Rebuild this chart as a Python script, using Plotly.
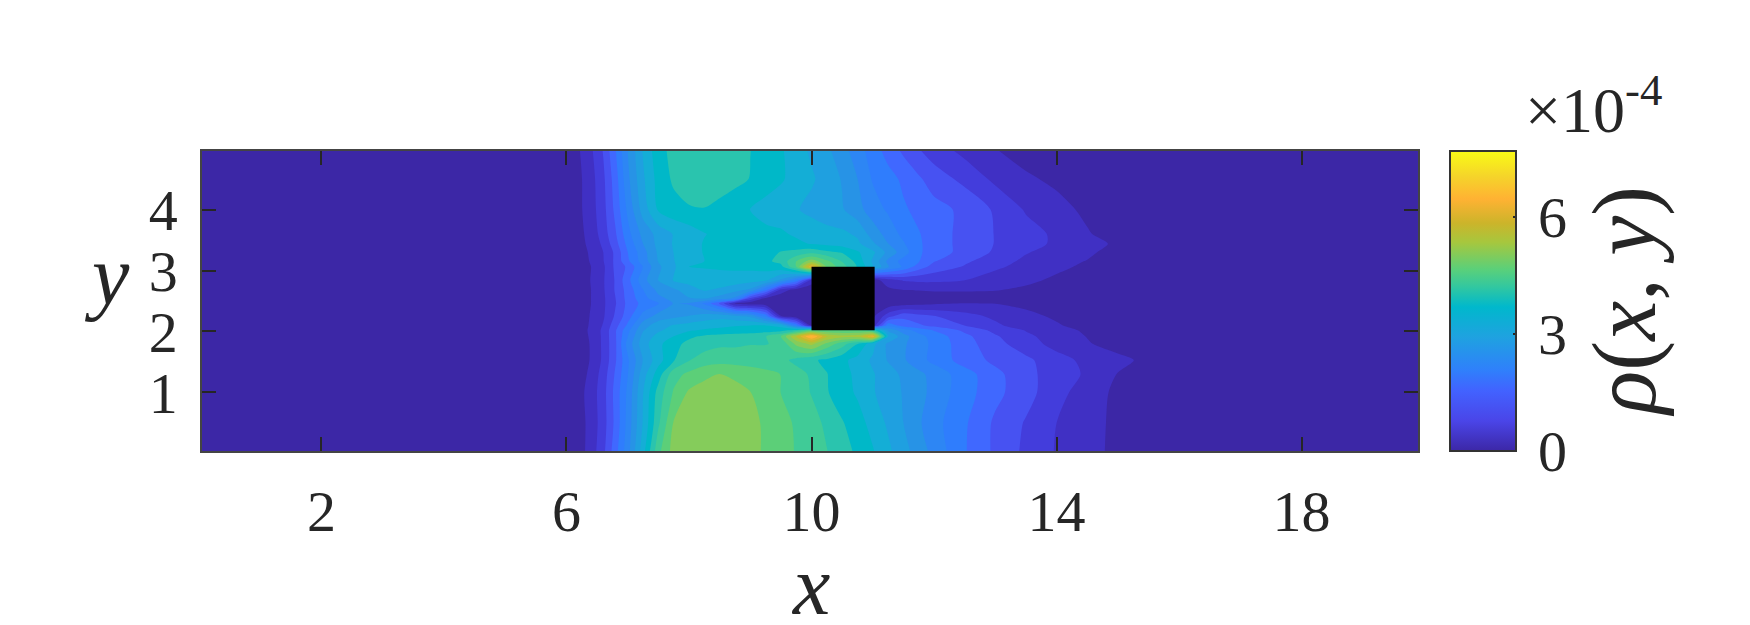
import plotly.graph_objects as go

# density field, in units of 1e-4
x_cols = [0.05, 6, 6.2, 6.4, 6.6, 6.8, 7, 7.25, 7.5, 7.75, 8,
          8.25, 8.5, 8.75, 9, 9.25, 9.5, 9.75, 10, 10.25, 10.5, 10.75, 11,
          11.25, 11.5, 11.75, 12, 12.5, 13, 13.5, 14, 14.5, 15, 15.5, 19.9]
y_rows = [0.04, 0.5, 1.0, 1.3, 1.53, 1.8, 1.92, 2.02, 2.1, 2.25, 2.46, 2.54, 2.68,
          2.84, 3.06, 3.15, 3.3, 3.44, 3.6, 4.0, 4.5, 4.96]

rho_004 = [0, .03, .2, .56, 1.05, 1.78, 2.54, 3.7, 4.9, 5.55, 5.65,
           5.68, 5.7, 5.65, 5.52, 5.33, 5.15, 4.98, 4.8, 4.63, 4.41, 4.15, 3.88,
           3.55, 3.22, 2.9, 2.56, 1.96, 1.46, 1.07, .74, .5, .3, .12, 0]
rho_050 = [0, .03, .22, .52, .98, 1.65, 2.45, 3.5, 4.55, 5.42, 5.58,
           5.63, 5.65, 5.6, 5.5, 5.33, 5.15, 4.95, 4.75, 4.55, 4.27, 4.0, 3.72,
           3.4, 3.08, 2.75, 2.45, 1.98, 1.47, 1.12, .77, .52, .3, .1, 0]
rho_100 = [0, .03, .25, .55, 1.0, 1.68, 2.4, 3.46, 4.4, 5.05, 5.45,
           5.55, 5.6, 5.55, 5.4, 5.2, 5.0, 4.8, 4.6, 4.27, 4.0, 3.8, 3.5,
           3.28, 3.05, 2.85, 2.55, 2.1, 1.65, 1.3, .9, .58, .3, .1, 0]
rho_130 = [0, .03, .2, .48, .95, 1.6, 2.3, 3.3, 4.05, 4.85, 5.1,
           5.3, 5.4, 5.3, 5.18, 5.08, 5.0, 4.8, 4.55, 4.25, 4.0, 3.75, 3.5,
           3.25, 3.0, 2.8, 2.55, 2.1, 1.65, 1.28, .95, .72, .37, .08, 0]
rho_153 = [0, .03, .15, .42, .85, 1.5, 2.25, 3.1, 3.7, 4.2, 4.6,
           4.8, 4.85, 4.85, 4.85, 4.85, 4.75, 4.5, 4.3, 4.15, 3.95, 3.7, 3.4,
           3.05, 2.75, 2.45, 2.2, 1.75, 1.45, 1.25, .9, .68, .5, .28, 0]
rho_180 = [0, .03, .15, .42, .85, 1.48, 2.45, 3.3, 3.75, 4.1, 4.35,
           4.45, 4.55, 4.55, 4.6, 4.6, 4.7, 5.5, 5.9, 5.3, 4.8, 4.25, 3.6,
           3.0, 2.75, 2.5, 2.2, 1.7, 1.3, .92, .65, .42, .22, .04, 0]
rho_192 = [0, .03, .15, .45, .85, 1.5, 2.3, 3.2, 3.6, 3.85, 4.15,
           4.3, 4.35, 4.4, 4.45, 4.6, 5.0, 6.2, 7.4, 6.2, 5.9, 6.0, 6.9,
           3.5, 2.85, 2.45, 2.15, 1.65, 1.2, .85, .6, .37, .17, .03, 0]
rho_202 = [0, .03, .15, .48, .85, 1.5, 2.2, 3.05, 3.4, 3.62, 3.8,
           3.9, 3.95, 4.0, 4.02, 4.05, 4.1, 4.4, 5.0, 5.0, 5.0, 5.0, 4.5,
           3.0, 2.5, 2.15, 1.9, 1.45, 1.05, .75, .53, .32, .14, .02, 0]
rho_210 = [0, .03, .14, .45, .8, 1.4, 2.0, 2.9, 3.3, 3.5, 3.6,
           3.68, 3.75, 3.82, 3.85, 3.85, 3.7, 2.2, .3, .1, .1, .1, .5,
           2.2, 1.75, 1.6, 1.42, 1.15, .85, .55, .42, .25, .1, .02, 0]
rho_225 = [0, .03, .14, .42, .72, 1.22, 1.75, 2.45, 2.85, 2.98, 3.1,
           3.25, 3.32, 3.2, 3.0, 2.2, .4, .12, .1, .1, .1, .1, .3,
           1.0, 1.45, 1.3, 1.18, .92, .68, .48, .33, .15, .05, 0, 0]
rho_246 = [0, .03, .14, .385, .7, 1.13, 1.65, 2.05, 2.3, 2.72, 2.65,
           2.25, 1.5, .3, .15, .1, .1, .1, .1, .1, .1, .1, .1,
           .12, .2, .27, .33, .39, .38, .3, .2, .1, .03, 0, 0]
rho_254 = [0, .03, .14, .385, .7, 1.15, 1.68, 2.15, 2.6, 2.8, 3.05,
           3.1, 2.9, 2.6, 1.0, .25, .1, .08, .08, .1, .1, .1, .1,
           .1, .12, .17, .2, .22, .22, .2, .15, .1, .03, 0, 0]
rho_268 = [0, .04, .15, .385, .72, 1.2, 1.7, 2.3, 2.8, 3.0, 3.3,
           3.5, 3.4, 3.2, 3.0, 2.0, .6, .2, .1, .1, .1, .1, .1,
           .3, .38, .4, .42, .42, .4, .33, .22, .1, .03, 0, 0]
rho_284 = [0, .05, .17, .4, .73, 1.2, 1.8, 2.55, 3.1, 3.5, 3.6,
           3.65, 3.68, 3.68, 3.6, 3.55, 3.0, 2.2, .6, .1, .1, .1, .2,
           .6, .8, .85, .85, .77, .55, .45, .33, .15, .03, 0, 0]
rho_306 = [0, .05, .17, .385, .7, 1.25, 1.62, 2.33, 3.0, 3.4, 3.85,
           3.88, 3.9, 3.92, 3.95, 4.0, 4.1, 5.0, 6.9, 5.3, 4.8, 4.2, 3.5,
           2.75, 2.25, 1.72, 1.4, 1.12, .85, .62, .45, .33, .12, 0, 0]
rho_315 = [0, .05, .18, .42, .75, 1.25, 1.85, 2.5, 3.1, 3.45, 3.7,
           3.85, 3.9, 3.95, 4.0, 4.15, 4.35, 5.0, 5.6, 5.1, 4.6, 4.1, 3.4,
           2.6, 2.15, 1.95, 1.56, 1.22, .95, .68, .5, .37, .17, .01, 0]
rho_330 = [0, .06, .2, .45, .77, 1.25, 1.925, 2.55, 3.15, 3.47, 3.65,
           3.88, 3.95, 4.0, 4.05, 4.12, 4.25, 4.35, 4.5, 4.32, 4.2, 3.9, 3.55,
           2.95, 2.5, 1.98, 1.75, 1.4, 1.1, .8, .6, .45, .25, .03, 0]
rho_344 = [0, .07, .24, .5, .85, 1.4, 2.05, 2.7, 3.2, 3.5, 3.68,
           3.88, 3.95, 3.98, 4.0, 4.02, 4.06, 3.95, 3.82, 3.75, 3.68, 3.55, 3.15,
           2.7, 2.35, 1.98, 1.75, 1.4, 1.14, .92, .7, .5, .33, .08, 0]
rho_360 = [0, .06, .27, .53, .95, 1.5, 2.18, 2.82, 3.22, 3.49, 3.65,
           3.83, 3.95, 3.98, 3.98, 3.95, 3.92, 3.78, 3.7, 3.62, 3.55, 3.4, 2.9,
           2.55, 2.2, 1.95, 1.75, 1.4, 1.14, .92, .7, .42, .2, .03, 0]
rho_400 = [0, .08, .3, .6, 1.02, 1.65, 2.4, 3.25, 3.9, 4.1, 4.2,
           4.22, 4.12, 3.98, 3.84, 3.7, 3.6, 3.5, 3.35, 3.2, 3.12, 2.83, 2.5,
           2.25, 1.98, 1.82, 1.68, 1.45, 1.1, .73, .52, .3, .05, 0, 0]
rho_450 = [0, .08, .3, .62, 1.07, 1.75, 2.6, 3.4, 4.0, 4.3, 4.42,
           4.45, 4.43, 4.35, 4.22, 4.05, 3.9, 3.7, 3.52, 3.3, 3.05, 2.7, 2.27,
           2.07, 1.85, 1.6, 1.35, 1.05, .68, .45, .3, .1, .02, 0, 0]
rho_496 = [0, .1, .35, .7, 1.18, 1.9, 2.7, 3.5, 4.1, 4.35, 4.42,
           4.45, 4.43, 4.35, 4.24, 4.08, 3.9, 3.65, 3.4, 3.17, 2.85, 2.5, 2.12,
           1.78, 1.47, 1.19, .98, .66, .41, .22, .1, .03, 0, 0, 0]

rho = [rho_004, rho_050, rho_100, rho_130, rho_153, rho_180, rho_192, rho_202,
       rho_210, rho_225, rho_246, rho_254, rho_268, rho_284, rho_306, rho_315,
       rho_330, rho_344, rho_360, rho_400, rho_450, rho_496]

x_ticks = [2, 6, 10, 14, 18]
y_ticks = [1, 2, 3, 4]
cbar_ticks = [0, 3, 6]
box_x = [10, 11.03, 11.03, 10, 10]
box_y = [2.02, 2.02, 3.06, 3.06, 2.02]

zmax = 7.7
level_step = 0.385

# colours of the filled bands, lowest first
band_colors = [
    "#3c27a6", "#4030c4", "#433ddc", "#4752f2", "#4068ff", "#2f7dfd", "#2d86f4",
    "#2793e6", "#1fa0e0", "#14aed6", "#00b8c8", "#2ac4ae", "#40cb97", "#5ccf78",
    "#85cc5b", "#a6c73e", "#c3bb2e", "#e0b42e", "#ffb233", "#f8d028", "#f9fb15",
]
band_scale = [[i / (len(band_colors) - 1), c] for i, c in enumerate(band_colors)]

# colours of the colorbar, which runs a bit differently from the bands
bar_scale = [
    [0.0, "#3c27a6"], [0.10, "#4a45e8"], [0.20, "#4262ff"], [0.27, "#2f80fb"],
    [0.38, "#1fa2e0"], [0.48, "#00b8cc"], [0.55, "#34c89e"], [0.605, "#5ad07a"],
    [0.695, "#a6c73e"], [0.76, "#ccb42a"], [0.84, "#ffb233"], [0.915, "#f5d42a"],
    [1.0, "#f9fb15"],
]

INK = "#262626"
SERIF = "Liberation Serif"

fig = go.Figure()

# the heatmap sits under the contours and only provides the smooth colorbar
fig.add_trace(
    go.Heatmap(
        x=x_cols,
        y=y_rows,
        z=rho,
        colorscale=bar_scale,
        zmin=0,
        zmax=zmax,
        hoverinfo="skip",
        colorbar=dict(
            x=(1450 - 202) / 1216,
            xanchor="left",
            xpad=0,
            y=0,
            yanchor="bottom",
            ypad=0,
            len=1,
            thickness=66,
            outlinecolor="#333333",
            outlinewidth=2,
            ticks="inside",
            ticklen=4,
            tickwidth=1.5,
            tickcolor=INK,
            tickvals=cbar_ticks,
            showticklabels=False,
        ),
    )
)

fig.add_trace(
    go.Contour(
        x=x_cols,
        y=y_rows,
        z=rho,
        colorscale=band_scale,
        zmin=level_step / 2,
        zmax=zmax + level_step / 2,
        autocontour=False,
        contours=dict(start=level_step, end=zmax, size=level_step, coloring="fill"),
        line=dict(width=0, smoothing=0.8),
        showscale=False,
        hoverinfo="skip",
    )
)

# the square obstacle
fig.add_trace(
    go.Scatter(
        x=box_x,
        y=box_y,
        mode="lines",
        fill="toself",
        fillcolor="black",
        line=dict(color="black", width=0),
        showlegend=False,
        hoverinfo="skip",
    )
)

fig.update_xaxes(
    range=[0.05, 19.9],
    tickvals=x_ticks,
    ticks="inside",
    ticklen=14,
    tickwidth=1.5,
    tickcolor=INK,
    ticklabelstandoff=9,
    tickfont=dict(family=SERIF, size=58, color=INK),
    showline=True,
    linecolor="#444444",
    linewidth=1.5,
    mirror="ticks",
    showgrid=False,
    zeroline=False,
)
fig.update_yaxes(
    range=[0.04, 4.96],
    tickvals=y_ticks,
    ticks="inside",
    ticklen=14,
    tickwidth=1.5,
    tickcolor=INK,
    ticklabelstandoff=11,
    tickfont=dict(family=SERIF, size=58, color=INK),
    showline=True,
    linecolor="#444444",
    linewidth=1.5,
    mirror="ticks",
    showgrid=False,
    zeroline=False,
)

# colorbar tick labels sit further out than the colorbar allows, so they are annotations
for v in cbar_ticks:
    fig.add_annotation(
        text=str(v), xref="paper", yref="paper", showarrow=False,
        font=dict(family=SERIF, size=58, color=INK),
        xanchor="left", yanchor="middle",
        x=(1536 - 202) / 1216, y=v / zmax,
    )

label_font = dict(family=SERIF, size=84, color=INK)
fig.add_annotation(
    text="<i>x</i>", xref="paper", yref="paper", showarrow=False, font=label_font,
    xanchor="center", yanchor="middle",
    x=(810 - 202) / 1216, y=(451 - 585) / 300,
)
fig.add_annotation(
    text="<i>y</i>", xref="paper", yref="paper", showarrow=False, font=label_font,
    xanchor="center", yanchor="middle",
    x=(107 - 202) / 1216, y=(451 - 275) / 300,
)
fig.add_annotation(
    text="<i>ρ</i>(<i>x</i>, <i>y</i>)", xref="paper", yref="paper", showarrow=False,
    font=dict(family=SERIF, size=90, color=INK), textangle=-90,
    xanchor="center", yanchor="middle",
    x=(1625 - 202) / 1216, y=(451 - 302) / 300,
)
fig.add_annotation(
    text="×10<sup>-4</sup>", xref="paper", yref="paper", showarrow=False,
    font=dict(family=SERIF, size=64, color=INK),
    xanchor="center", yanchor="middle",
    x=(1594 - 202) / 1216, y=(451 - 105) / 300,
)

fig.update_layout(
    width=1750,
    height=625,
    margin=dict(l=202, r=332, t=151, b=174),
    paper_bgcolor="white",
    plot_bgcolor="white",
    showlegend=False,
)

fig.write_html(
    "out.html",
    config=dict(displayModeBar=False),
    post_script="document.body.style.margin = '0';",
)
